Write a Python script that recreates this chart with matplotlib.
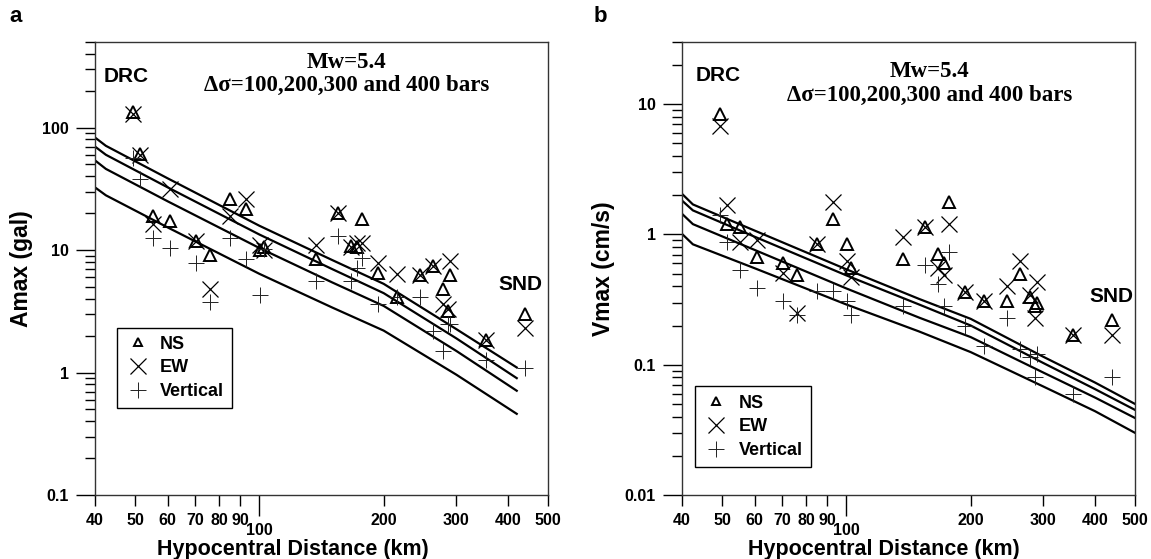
import matplotlib
matplotlib.use("Agg")
import matplotlib.pyplot as plt
from matplotlib.ticker import FixedLocator, FixedFormatter, NullFormatter
from matplotlib.lines import Line2D

plt.rcParams['font.family'] = ['Liberation Sans', 'DejaVu Sans']

# hypocentral distance of each station (km)
dist = [49.5, 51.4, 55.3, 60.6, 70.4, 75.9, 84.7, 93, 100.5, 102.5,
        137, 155, 167, 172, 177, 194, 216, 245, 264, 278,
        286, 290, 354, 440]

# peak ground acceleration (gal)
amax_ns = [133, 61, 19, 17.3, 11.9, 9.2, 26, 21.6, 10, 10.5,
           8.4, 20.2, 10.8, 10.5, 17.9, 6.5, 4.1, 6.3, 7.4, 4.8,
           3.2, 6.2, 1.85, 3.0]
amax_ew = [130, 60, 16.3, 31.5, 11.9, 4.8, 19, 26, 11, 10,
           11.1, 20.2, 10.5, 11.5, 11.5, 7.9, 6.4, 6.3, 7.4, 3.6,
           3.3, 8.1, 1.85, 2.3]
amax_v = [56, 38, 12.6, 10.4, 7.9, 3.8, 12.6, 8.4, 4.3, 10.2,
          5.6, 13, 5.6, 7.2, 8.6, 3.6, 4.1, 4.1, 2.2, 1.5,
          2.5, 2.5, 1.27, 1.08]

# peak ground velocity (cm/s)
vmax_ns = [8.4, 1.21, 1.14, 0.67, 0.6, 0.49, 0.85, 1.32, 0.85, 0.55,
           0.65, 1.14, 0.71, 0.6, 1.77, 0.36, 0.31, 0.31, 0.5, 0.33,
           0.28, 0.3, 0.17, 0.22]
vmax_ew = [6.8, 1.67, 0.87, 0.9, 0.51, 0.25, 0.85, 1.77, 0.63, 0.47,
           0.95, 1.14, 0.55, 0.49, 1.21, 0.36, 0.31, 0.4, 0.63, 0.34,
           0.23, 0.43, 0.17, 0.17]
vmax_v = [1.4, 0.87, 0.53, 0.39, 0.31, 0.24, 0.37, 0.37, 0.31, 0.24,
          0.28, 0.58, 0.42, 0.28, 0.73, 0.2, 0.14, 0.23, 0.133, 0.115,
          0.081, 0.12, 0.06, 0.08]

# simulated curves for stress drops of 100, 200, 300 and 400 bars
curve_dist_a = [40, 42.5, 60, 100, 150, 200, 300, 420]
amax_sim = [
    [32.5, 28, 15.3, 6.4, 3.4, 2.2, 0.96, 0.46],
    [54, 46, 25, 10.4, 5.45, 3.5, 1.5, 0.71],
    [70, 60, 32.5, 13.4, 7.0, 4.45, 1.9, 0.9],
    [83, 71, 38.5, 15.8, 8.3, 5.3, 2.26, 1.1],
]
curve_dist_v = [40, 42.5, 60, 100, 150, 200, 300, 400, 500]
vmax_sim = [
    [1.01, 0.84, 0.55, 0.29, 0.18, 0.125, 0.068, 0.044, 0.03],
    [1.44, 1.2, 0.76, 0.385, 0.23, 0.163, 0.087, 0.056, 0.039],
    [1.82, 1.53, 0.96, 0.485, 0.29, 0.2, 0.103, 0.065, 0.045],
    [2.05, 1.7, 1.07, 0.54, 0.32, 0.225, 0.115, 0.073, 0.05],
]

x_minor = [40, 50, 60, 70, 80, 90, 200, 300, 400, 500]

W, H = 1151, 559


def style_axis(ax, ylim, yticks, ylabels):
    ax.set_xscale('log')
    ax.set_yscale('log')
    ax.set_xlim(40, 500)
    ax.set_ylim(*ylim)
    ax.xaxis.set_major_locator(FixedLocator([100]))
    ax.xaxis.set_major_formatter(FixedFormatter(['100']))
    ax.xaxis.set_minor_locator(FixedLocator(x_minor))
    ax.xaxis.set_minor_formatter(FixedFormatter([str(v) for v in x_minor]))
    ax.yaxis.set_major_locator(FixedLocator(yticks))
    ax.yaxis.set_major_formatter(FixedFormatter(ylabels))
    ax.yaxis.set_minor_formatter(NullFormatter())
    ax.tick_params(axis='x', which='major', length=15, width=1, pad=5,
                   labelsize=11.5, direction='out', top=False)
    ax.tick_params(axis='x', which='minor', length=8, width=1, pad=5,
                   labelsize=11.5, direction='out', top=False)
    ax.tick_params(axis='y', which='major', length=14, width=1, pad=5,
                   labelsize=11.5, direction='out', right=False)
    ax.tick_params(axis='y', which='minor', length=7, width=1,
                   direction='out', right=False)
    for lbl in ax.get_xticklabels(which='both') + ax.get_yticklabels():
        lbl.set_fontweight('bold')
    for sp in ax.spines.values():
        sp.set_color('#333333')
        sp.set_linewidth(1)


def plot_points(ax, ns, ew, vert):
    ax.plot(dist, ns, linestyle='none', marker='^', ms=9, mfc='none',
            mec='black', mew=1.4)
    ax.plot(dist, ew, linestyle='none', marker='x', ms=12, mec='black', mew=0.9)
    ax.plot(dist, vert, linestyle='none', marker='+', ms=12, mec='#222222', mew=0.7)


def add_legend(ax, anchor):
    handles = [
        Line2D([], [], linestyle='none', marker='^', ms=6, mfc='none', mec='black', mew=1.4),
        Line2D([], [], linestyle='none', marker='x', ms=11, mec='black', mew=0.9),
        Line2D([], [], linestyle='none', marker='+', ms=11, mec='#222222', mew=0.7),
    ]
    leg = ax.legend(handles, ['NS', 'EW', 'Vertical'], loc='lower left',
                    bbox_to_anchor=anchor, frameon=True, fancybox=False,
                    edgecolor='black', framealpha=1, borderpad=0.45,
                    labelspacing=0.38, handlelength=1.4, handletextpad=0.55,
                    borderaxespad=0, prop={'size': 13, 'weight': 'bold'})
    leg.get_frame().set_linewidth(1)


def add_title(ax, x, y1, y2):
    serif = ['Liberation Serif', 'DejaVu Serif']
    ax.text(x, y1, 'Mw=5.4', transform=ax.transAxes, ha='center', va='center',
            family=serif, fontsize=16.5, fontweight='bold')
    ax.text(x, y2, '\u0394\u03c3=100,200,300 and 400 bars', transform=ax.transAxes,
            ha='center', va='center', family=serif, fontsize=16.5, fontweight='bold')


fig = plt.figure(figsize=(W / 100, H / 100), dpi=100)
ax1 = fig.add_axes([95 / W, 64 / H, 453 / W, 453 / H])
ax2 = fig.add_axes([682 / W, 64 / H, 453 / W, 453 / H])

# panel a
for c in amax_sim:
    ax1.plot(curve_dist_a, c, color='black', lw=1.6)
plot_points(ax1, amax_ns, amax_ew, amax_v)
style_axis(ax1, (0.1, 500), [0.1, 1, 10, 100], ['0.1', '1', '10', '100'])
ax1.set_xlabel('Hypocentral Distance (km)', fontsize=15.5, fontweight='bold')
ax1.xaxis.set_label_coords(0.437, -0.098)
ax1.set_ylabel('Amax (gal)', fontsize=16.5, fontweight='bold')
ax1.yaxis.set_label_coords(-0.137, 0.5)
add_title(ax1, 0.556, 0.955, 0.905)
ax1.text(0.018, 0.923, 'DRC', transform=ax1.transAxes, ha='left', va='center',
         fontsize=15, fontweight='bold')
ax1.text(0.94, 0.464, 'SND', transform=ax1.transAxes, ha='center', va='center',
         fontsize=15, fontweight='bold')
add_legend(ax1, (0.048, 0.191))

# panel b
for c in vmax_sim:
    ax2.plot(curve_dist_v, c, color='black', lw=1.6)
plot_points(ax2, vmax_ns, vmax_ew, vmax_v)
style_axis(ax2, (0.01, 30), [0.01, 0.1, 1, 10], ['0.01', '0.1', '1', '10'])
ax2.set_xlabel('Hypocentral Distance (km)', fontsize=15.5, fontweight='bold')
ax2.xaxis.set_label_coords(0.446, -0.098)
ax2.set_ylabel('Vmax (cm/s)', fontsize=16.5, fontweight='bold')
ax2.yaxis.set_label_coords(-0.148, 0.5)
add_title(ax2, 0.547, 0.935, 0.882)
ax2.text(0.029, 0.925, 'DRC', transform=ax2.transAxes, ha='left', va='center',
         fontsize=15, fontweight='bold')
ax2.text(0.947, 0.439, 'SND', transform=ax2.transAxes, ha='center', va='center',
         fontsize=15, fontweight='bold')
add_legend(ax2, (0.029, 0.061))

fig.text(16 / W, 1 - 17 / H, 'a', ha='center', va='center', fontsize=16, fontweight='bold')
fig.text(600 / W, 1 - 17 / H, 'b', ha='center', va='center', fontsize=16, fontweight='bold')

fig.savefig('out.png', dpi=100)
